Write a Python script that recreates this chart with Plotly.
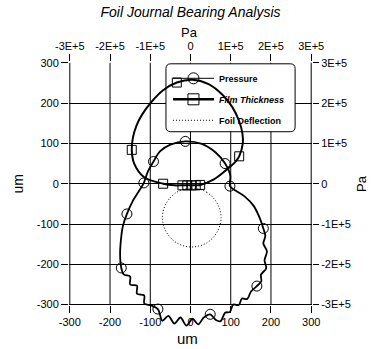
import plotly.graph_objects as go

# ---------------- data ----------------
um_ticks = [-300, -200, -100, 0, 100, 200, 300]
um_labels = ["-300", "-200", "-100", "0", "100", "200", "300"]
pa_ticks = [-3e5, -2e5, -1e5, 0, 1e5, 2e5, 3e5]
pa_labels = ["-3E+5", "-2E+5", "-1E+5", "0", "1E+5", "2E+5", "3E+5"]

pressure_x = [-13, -50, -76, -92, -106, -116, -128, -143, -158, -168, -173, -175, -172,
              -166, -150, -150, -133, -133, -115, -115, -98, -81,
              -70, -55, -40, -25, -10, 5, 19, 33, 49, 63, 75, 86, 98, 106, 120, 128, 141, 150, 165,
              176, 175, 188, 184, 190, 181, 186, 181, 172, 157, 135, 112, 98, 99, 86, 62, 28, -13]
pressure_y = [105, 97, 80, 55, 30, 2, -18, -42, -75, -105, -140, -175, -209,
              -225, -230, -250, -253, -273, -277, -297, -302, -311,
              -340, -328, -347, -332, -352, -335, -349, -332, -324, -338, -341, -320, -318, -300, -301,
              -285, -286, -268, -254,
              -242, -226, -210, -190, -168, -148, -130, -111, -85, -55, -32, -17, -6, 20, 50, 78, 99, 105]
pressure_marked = [0, 3, 5, 8, 12, 21, 30, 40, 48, 53, 55]

film_x = [5, -34, -68, -98, -120, -134, -143, -146, -140, -115, -68, -40, -20, -8, 3, 13, 24,
          57, 90, 112, 121, 130, 129, 121, 104, 80, 45, 5]
film_y = [258, 251, 232, 202, 172, 145, 115, 84, 50, 16, 0, -4, -4, -4, -4, -4, -3,
          10, 35, 55, 68, 100, 125, 155, 190, 220, 247, 258]
film_marked = [1, 7, 10, 12, 13, 14, 15, 16, 20]

foil_x = [3, 40, 66, 76, 66, 40, 3, -34, -60, -70, -60, -34, 3]
foil_y = [-11, -21, -48, -84, -120, -147, -157, -147, -120, -84, -48, -21, -11]

series_names = ["<b>Pressure</b>", "<b><i>Film Thickness</i></b>", "<b>Foil Deflection</b>"]

# ---------------- figure ----------------
FONT = "Liberation Sans, Arial, sans-serif"
fig = go.Figure()

fig.add_trace(go.Scatter(x=pressure_x, y=pressure_y, mode="lines",
                         line=dict(color="black", width=1.8, shape="spline", smoothing=0.9),
                         showlegend=False, hoverinfo="skip"))
fig.add_trace(go.Scatter(x=[pressure_x[i] for i in pressure_marked],
                         y=[pressure_y[i] for i in pressure_marked], mode="markers",
                         marker=dict(symbol="circle-open", size=10, color="black", line=dict(width=1)),
                         showlegend=False, hoverinfo="skip"))
fig.add_trace(go.Scatter(x=film_x, y=film_y, mode="lines",
                         line=dict(color="black", width=2, shape="spline", smoothing=1),
                         showlegend=False, hoverinfo="skip"))
fig.add_trace(go.Scatter(x=[film_x[i] for i in film_marked],
                         y=[film_y[i] for i in film_marked], mode="markers",
                         marker=dict(symbol="square-open", size=9, color="black", line=dict(width=1)),
                         showlegend=False, hoverinfo="skip"))
fig.add_trace(go.Scatter(x=foil_x, y=foil_y, mode="lines",
                         line=dict(color="black", width=1, dash="1px,2px", shape="spline", smoothing=1),
                         showlegend=False, hoverinfo="skip"))

# legend entries
fig.add_trace(go.Scatter(x=[None], y=[None], mode="lines+markers", name=series_names[0],
                         legendgroup="p", line=dict(color="black", width=1),
                         marker=dict(symbol="circle-open", size=11, color="black", line=dict(width=1))))
fig.add_trace(go.Scatter(x=[None], y=[None], mode="lines+markers", name=series_names[1],
                         legendgroup="f", line=dict(color="black", width=2.5),
                         marker=dict(symbol="square-open", size=11, color="black", line=dict(width=1))))
fig.add_trace(go.Scatter(x=[None], y=[None], mode="lines", name=series_names[2],
                         legendgroup="d", line=dict(color="black", width=1, dash="1px,2px")))
fig.add_trace(go.Scatter(x=[None], y=[None], xaxis="x2", yaxis="y2", showlegend=False,
                         hoverinfo="skip"))

Y_LO, Y_HI = -358, 302
X_LO, X_HI = -302, 302

for v in um_ticks:
    fig.add_shape(type="line", xref="x", yref="y", x0=v, x1=v, y0=um_ticks[0], y1=um_ticks[-1],
                  line=dict(color="black", width=1), layer="below")

bx0, bx1, by0, by1, r = -61, 260, 129, 297.5, 12
path = (f"M{bx0+r},{by1} L{bx1-r},{by1} Q{bx1},{by1} {bx1},{by1-r} L{bx1},{by0+r} "
        f"Q{bx1},{by0} {bx1-r},{by0} L{bx0+r},{by0} Q{bx0},{by0} {bx0},{by0+r} "
        f"L{bx0},{by1-r} Q{bx0},{by1} {bx0+r},{by1} Z")
fig.add_shape(type="path", path=path, xref="x", yref="y", fillcolor="white",
              line=dict(color="black", width=1), layer="between")

L, R, T, B = 69.2, 66.2, 62.2, 20.6
pw, ph = 378 - L - R, 349 - T - B
bottom_px = 349 - B


def px_x(px):
    return (px - L) / pw


def px_y(py):
    return (bottom_px - py) / ph


tickfont = dict(family=FONT, size=11, color="black")
common = dict(showgrid=False, zeroline=False, showline=False, ticks="outside",
              tickcolor="black", tickfont=tickfont, automargin=False)

fig.update_layout(
    template="none",
    width=378, height=349,
    margin=dict(l=L, r=R, t=T, b=B, pad=0, autoexpand=False),
    paper_bgcolor="white", plot_bgcolor="white",
    font=dict(family=FONT, color="black"),
    title=dict(text="<i>Foil Journal Bearing Analysis</i>", x=0.5, xref="paper",
               y=1 - 12 / 349, yanchor="middle", font=dict(family=FONT, size=14, color="black")),
    xaxis=dict(range=[X_LO, X_HI], tickvals=um_ticks, ticktext=um_labels, ticklen=7,
               anchor="free", position=(um_ticks[0] - Y_LO) / (Y_HI - Y_LO), **common),
    yaxis=dict(range=[Y_LO, Y_HI], tickvals=um_ticks, ticktext=um_labels, ticklen=7,
               **{**common, "showgrid": True}, gridcolor="black", gridwidth=1),
    xaxis2=dict(range=[X_LO * 1000, X_HI * 1000], overlaying="x", side="top", anchor="y",
                tickvals=pa_ticks, ticktext=pa_labels, ticklen=7, **common),
    yaxis2=dict(range=[Y_LO * 1000, Y_HI * 1000], overlaying="y", side="right", anchor="x",
                tickvals=pa_ticks, ticktext=pa_labels, ticklen=6, **common),
    legend=dict(x=px_x(168), y=px_y(64), xanchor="left", yanchor="top",
                bgcolor="rgba(0,0,0,0)", borderwidth=0, itemwidth=41,
                traceorder="grouped", tracegroupgap=2,
                font=dict(family=FONT, size=9, color="black")),
    showlegend=True,
    annotations=[
        dict(text="Pa", xref="paper", yref="paper", x=px_x(190), y=px_y(33), showarrow=False,
             font=dict(family=FONT, size=13, color="black"), xanchor="center", yanchor="middle"),
        dict(text="Pa", xref="paper", yref="paper", x=px_x(361), y=px_y(184), showarrow=False,
             textangle=-90, font=dict(family=FONT, size=13, color="black"),
             xanchor="center", yanchor="middle"),
        dict(text="um", xref="paper", yref="paper", x=px_x(18), y=px_y(184), showarrow=False,
             textangle=-90, font=dict(family=FONT, size=14, color="black"),
             xanchor="center", yanchor="middle"),
        dict(text="um", xref="paper", yref="paper", x=px_x(188), y=px_y(339), showarrow=False,
             font=dict(family=FONT, size=15, color="black"), xanchor="center", yanchor="middle"),
    ],
)

fig.write_html("out.html", config={"displayModeBar": False},
               post_script="document.body.style.margin='0';document.body.style.padding='0';")
